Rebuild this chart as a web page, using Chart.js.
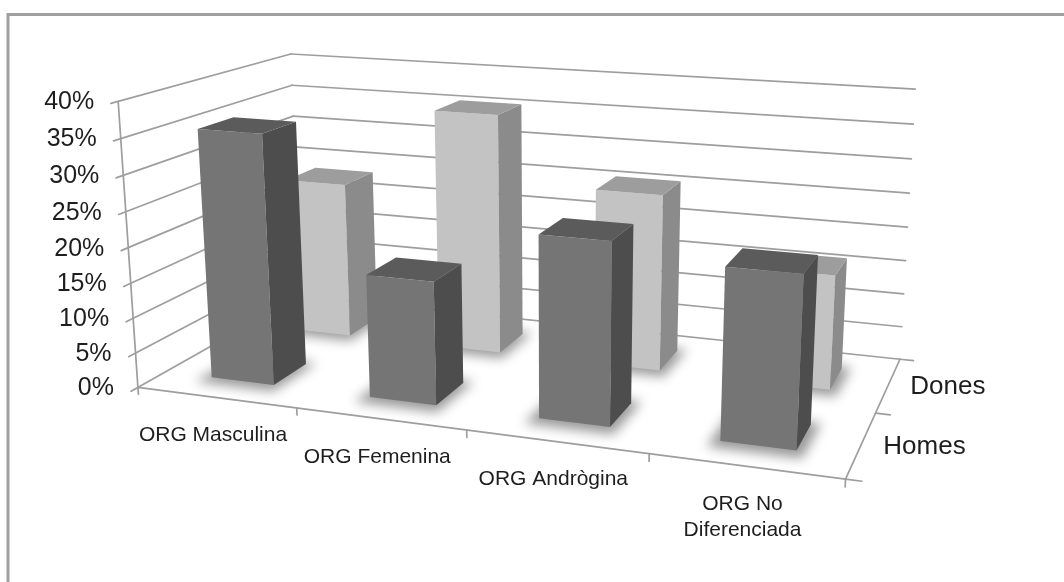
<!DOCTYPE html>
<html>
<head>
<meta charset="utf-8">
<script src="https://cdn.jsdelivr.net/npm/chart.js@4.4.1/dist/chart.umd.min.js"></script>
<style>
  html, body { margin: 0; padding: 0; background: #fff; overflow: hidden; }
  canvas { display: block; }
</style>
</head>
<body>
<canvas id="chart" width="1064" height="582"></canvas>
<script>
// data
const categories = [['ORG Masculina'], ['ORG Femenina'], ['ORG Andrògina'], ['ORG No', 'Diferenciada']];
const homes = [35.5, 17.3, 25, 23];
const dones = [23.5, 35.6, 25.8, 16.5];
const yTicks = [0, 5, 10, 15, 20, 25, 30, 35, 40];

// where the corners of the 3d box land on the page: [X, Y, Z, px, py]
// X = along categories, Y = along values, Z = depth (front 0, back 1)
const anchors = [
    [0, 0, 0, 138, 386], [0, 0.5, 0, 128, 246], [0, 1, 0, 119, 102],
    [0, 0.75, 1, 293, 117], [0, 0.875, 1, 292, 85], [0, 1, 1, 291, 53],
    [1, 0, 1, 900, 356], [1, 0.25, 1, 903, 299], [1, 0.5, 1, 906, 230], [1, 0.75, 1, 911, 159], [1, 1, 1, 916, 87],
    [1, 0, 0.5, 880, 408], [1, 0, 0, 844, 477],
    [0.25, 0, 0, 297, 409], [0.5, 0, 0, 466, 433], [0.75, 0, 0, 648, 457]
];

// least squares fit of a 3x4 projection matrix (p34 = 1)
function fitCamera(pts) {
    const n = 11, s = 100;
    const M = Array.from({ length: n }, () => new Array(n + 1).fill(0));
    const add = (row, rhs) => {
        for (let i = 0; i < n; i++) {
            for (let j = 0; j < n; j++) M[i][j] += row[i] * row[j];
            M[i][n] += row[i] * rhs;
        }
    };
    pts.forEach(([X, Y, Z, u, v]) => {
        u /= s; v /= s;
        add([X, Y, Z, 1, 0, 0, 0, 0, -u * X, -u * Y, -u * Z], u);
        add([0, 0, 0, 0, X, Y, Z, 1, -v * X, -v * Y, -v * Z], v);
    });
    for (let c = 0; c < n; c++) {
        let p = c;
        for (let r = c + 1; r < n; r++) if (Math.abs(M[r][c]) > Math.abs(M[p][c])) p = r;
        [M[c], M[p]] = [M[p], M[c]];
        for (let r = 0; r < n; r++) {
            if (r === c) continue;
            const f = M[r][c] / M[c][c];
            for (let k = c; k <= n; k++) M[r][k] -= f * M[c][k];
        }
    }
    const p = M.map((row, i) => row[n] / row[i]);
    return (X, Y, Z) => {
        const w = p[8] * X + p[9] * Y + p[10] * Z + 1;
        return [s * (p[0] * X + p[1] * Y + p[2] * Z + p[3]) / w,
                s * (p[4] * X + p[5] * Y + p[6] * Z + p[7]) / w];
    };
}
const P = fitCamera(anchors);

const depthPct = 0.4;
const font = (px) => px + 'px "Liberation Sans", Arial, sans-serif';

const box3d = {
    id: 'box3d',
    afterDraw(chart) {
        const ctx = chart.ctx, area = chart.chartArea;
        const xs = chart.scales.x, ys = chart.scales.y;
        const nx = px => (px - area.left) / (area.right - area.left);
        const ny = py => (area.bottom - py) / (area.bottom - area.top);
        const line = (a, b) => {
            ctx.beginPath(); ctx.moveTo(...P(...a)); ctx.lineTo(...P(...b)); ctx.stroke();
        };
        const poly = (pts, fill) => {
            ctx.beginPath();
            pts.forEach((q, k) => { const [u, v] = P(...q); k ? ctx.lineTo(u, v) : ctx.moveTo(u, v); });
            ctx.closePath(); ctx.fillStyle = fill; ctx.fill();
        };

        ctx.save();
        ctx.fillStyle = '#fff';
        ctx.fillRect(0, 0, chart.width, chart.height);
        ctx.strokeStyle = '#a0a0a0'; ctx.lineWidth = 3;
        ctx.strokeRect(8, 14.5, chart.width + 20, chart.height + 20);

        // walls, floor and ticks
        ctx.strokeStyle = '#9e9e9e'; ctx.lineWidth = 1.7; ctx.lineCap = 'round';
        yTicks.forEach(v => {
            const Y = ny(ys.getPixelForValue(v));
            line([0, Y, -0.035], [0, Y, 1]);
            line([0, Y, 1], [1, Y, 1]);
        });
        line([0, 0, 0], [0, 1, 0]);
        line([0, 0, 0], [1, 0, 0]);
        line([1, 0, 0], [1, 0, 1]);
        for (let i = 0; i <= categories.length; i++) {
            const X = nx(xs.getPixelForValue(i - 0.5));
            line([X, 0, 0], [X, -0.025, 0]);
        }
        const nSeries = chart.data.datasets.length;
        for (let d = 0; d <= nSeries; d++) line([1, 0, d / nSeries], [1.02, 0, d / nSeries]);

        // bars, back row first, left to right
        const zHalf = depthPct / nSeries / 2;
        for (let d = nSeries - 1; d >= 0; d--) {
            const ds = chart.data.datasets[d];
            const zc = (d + 0.5) / nSeries, Z0 = zc - zHalf, Z1 = zc + zHalf;
            const boxes = chart.getDatasetMeta(d).data.map(el => ({
                X0: nx(el.x - el.width / 2), X1: nx(el.x + el.width / 2),
                Y0: ny(el.base), Y1: ny(el.y)
            }));
            // soft shadow on the floor
            ctx.save();
            ctx.filter = 'blur(6px)';
            boxes.forEach(b => poly([[b.X0 - 0.012, 0, Z0 - 0.05], [b.X1 + 0.012, 0, Z0 - 0.05],
                                     [b.X1 + 0.012, 0, Z1 + 0.02], [b.X0 - 0.012, 0, Z1 + 0.02]], 'rgba(0,0,0,0.4)'));
            ctx.restore();
            boxes.forEach(b => {
                const { X0, X1, Y0, Y1 } = b;
                poly([[X0, Y0, Z0], [X1, Y0, Z0], [X1, Y1, Z0], [X0, Y1, Z0]], ds.faces.front);
                poly([[X1, Y0, Z0], [X1, Y0, Z1], [X1, Y1, Z1], [X1, Y1, Z0]], ds.faces.side);
                poly([[X0, Y1, Z0], [X1, Y1, Z0], [X1, Y1, Z1], [X0, Y1, Z1]], ds.faces.top);
            });
        }

        // labels
        ctx.fillStyle = '#1e1e1e';
        ctx.font = font(25); ctx.textAlign = 'right'; ctx.textBaseline = 'middle';
        yTicks.forEach(v => {
            const [u, w] = P(0, ny(ys.getPixelForValue(v)), 0);
            ctx.fillText(v + '%', u - 24, w + 1);
        });
        ctx.font = font(21); ctx.textAlign = 'center';
        categories.forEach((lab, i) => {
            const [u, w] = P(nx(xs.getPixelForValue(i)), 0, 0);
            lab.forEach((t, k) => ctx.fillText(t, u - 3, w + 38 + k * 26));
        });
        ctx.font = font(26); ctx.textAlign = 'left';
        chart.data.datasets.forEach((ds, d) => {
            const [u, w] = P(1, 0, (d + 0.5) / nSeries);
            ctx.fillText(ds.label, u + 22, w + 2);
        });
        ctx.restore();
    }
};

new Chart(document.getElementById('chart'), {
    type: 'bar',
    data: {
        labels: categories,
        datasets: [{
            label: 'Homes',
            data: homes,
            backgroundColor: 'rgba(0,0,0,0)',
            faces: { front: '#757575', side: '#4d4d4d', top: '#5b5b5b' }
        }, {
            label: 'Dones',
            data: dones,
            backgroundColor: 'rgba(0,0,0,0)',
            faces: { front: '#c3c3c3', side: '#8b8b8b', top: '#9d9d9d' }
        }]
    },
    options: {
        responsive: false,
        animation: false,
        devicePixelRatio: 1,
        layout: { padding: 0 },
        datasets: { bar: { grouped: false, barPercentage: 0.4, categoryPercentage: 1 } },
        plugins: { legend: { display: false }, tooltip: { enabled: false } },
        scales: {
            x: { display: false },
            y: { display: false, min: 0, max: 40 }
        }
    },
    plugins: [box3d]
});
</script>
</body>
</html>
